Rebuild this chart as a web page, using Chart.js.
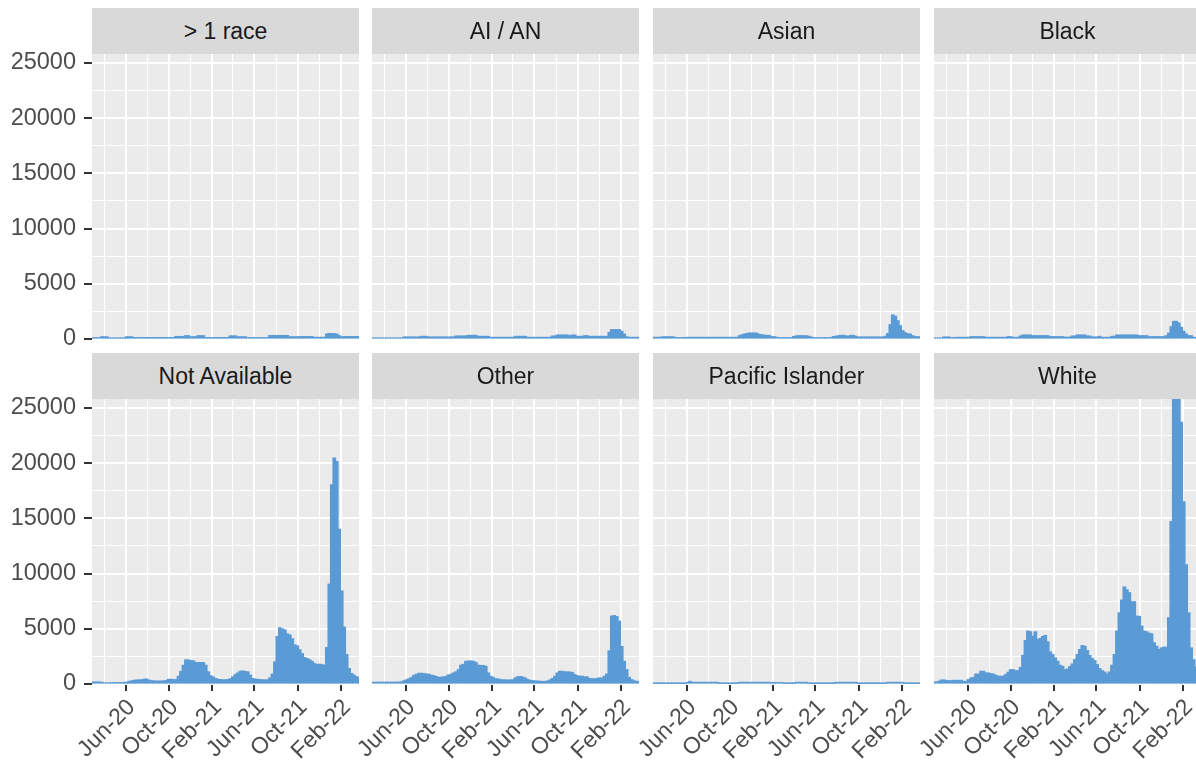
<!DOCTYPE html>
<html>
<head>
<meta charset="utf-8">
<script src="https://cdn.jsdelivr.net/npm/chart.js@4.4.0/dist/chart.umd.min.js"></script>
<style>
html,body{margin:0;padding:0;background:#ffffff;width:1196px;height:764px;overflow:hidden;}
#wrap{position:relative;width:1196px;height:764px;overflow:hidden;}
.strip{position:absolute;background:#D9D9D9;color:#1A1A1A;font-size:23px;font-family:"Liberation Sans",Arial,sans-serif;display:flex;align-items:center;justify-content:center;z-index:2;}
canvas{position:absolute;z-index:1;}
</style>
</head>
<body>
<div id="wrap"></div>
<script>
// ---------------- data ----------------
const categories = ['> 1 race','AI / AN','Asian','Black','Not Available','Other','Pacific Islander','White'];

// weekly bins: centre of first week and number of weeks
const firstWeekCentre = '2020-02-27';
const weekCount = 109;

const xAxisMin = '2020-02-27';
const xAxisMax = '2022-03-24';
const tickDates  = ['2020-06-01','2020-10-01','2021-02-01','2021-06-01','2021-10-01','2022-02-01'];
const tickLabels = ['Jun-20','Oct-20','Feb-21','Jun-21','Oct-21','Feb-22'];
const minorDates = ['2020-04-01','2020-08-01','2020-12-01','2021-04-01','2021-08-01','2021-12-01'];
const yTicks  = [0,5000,10000,15000,20000,25000];
const yMinor  = [2500,7500,12500,17500,22500];
const yMax = 25800;

const moreThanOneRace = [120,120,120,120,200,200,200,80,80,80,80,80,80,80,200,200,200,
 130,130,130,130,130,130,130,130,130,130,130,130,130,130,130,130,130,
 230,230,230,230,300,300,200,200,200,300,300,300,
 130,130,130,130,130,130,130,130,130,130,280,280,280,200,200,200,200,
 120,120,120,120,120,120,120,120,120,320,320,320,320,320,320,320,320,
 200,200,200,200,220,220,220,220,220,220,150,150,150,150,150,
 450,500,500,480,450,300,200,220,220,220,220,220,220,220];

const aian = [90,90,90,90,90,90,90,90,90,90,90,90,90,
 180,180,180,180,180,180,180,240,240,240,
 180,180,180,180,180,180,180,180,180,180,180,
 270,270,270,270,270,330,330,330,330,240,240,240,240,240,
 150,150,150,150,150,150,150,150,150,150,240,240,240,240,240,
 150,150,150,150,150,150,150,150,150,150,270,270,360,360,360,360,360,300,360,360,
 240,240,240,300,300,240,240,240,240,240,240,240,240,
 600,850,850,850,850,700,450,200,150,150,150,150,150];

const asian = [150,150,150,160,200,200,200,200,200,150,120,120,120,140,
 150,150,150,150,150,150,150,150,150,150,150,150,150,150,150,150,150,150,150,150,150,
 300,380,450,500,540,540,540,520,420,390,340,330,320,220,200,160,
 120,120,120,120,120,120,230,280,300,300,300,290,250,180,
 120,120,120,120,120,120,120,120,220,250,300,330,340,280,260,330,330,250,
 180,180,180,180,180,180,180,180,180,180,180,
 250,500,1300,2180,2060,1660,1210,760,570,480,450,300,220,200,200];

const black = [90,90,90,90,180,180,180,120,120,150,150,150,150,150,150,
 210,210,210,210,210,210,150,150,150,150,150,150,150,150,150,210,210,150,150,150,
 270,360,360,360,360,300,300,300,300,300,300,300,210,210,210,210,210,210,160,160,160,
 270,270,360,360,360,360,270,270,180,180,180,240,150,150,150,150,240,240,
 360,360,360,360,360,360,360,360,360,300,300,300,300,210,210,210,210,210,210,210,
 300,540,1120,1600,1600,1450,1060,700,450,300,300,150,150,150,150];

const notAvailable = [180,180,180,180,150,100,100,100,120,130,130,130,130,140,160,240,280,330,360,370,
 380,430,450,350,300,280,260,260,270,280,320,420,430,400,400,700,1150,1700,2180,2180,
 2120,2100,1950,1950,1950,1940,1700,1100,750,640,500,420,400,380,380,400,480,650,850,1000,
 1150,1180,1130,1100,800,500,450,420,400,380,360,380,550,900,2000,4300,5090,4980,4900,4540,
 4450,4100,3550,3450,3100,2750,2400,2300,2200,2050,1850,1750,1800,1750,1700,3300,9050,18030,20450,20150,
 14000,8420,5150,2670,1400,950,800,650,600];

const other = [150,150,160,160,160,160,160,160,160,160,170,170,200,300,380,480,600,790,880,970,
 970,930,910,880,800,760,680,600,620,640,700,820,880,1000,1100,1300,1700,1780,2050,2080,
 2080,2050,1950,1700,1680,1680,1600,1000,700,600,480,450,400,380,370,360,360,380,550,660,
 680,620,540,400,330,300,280,260,250,230,240,270,360,500,700,1000,1150,1150,1100,1100,
 1080,1050,850,760,700,700,650,640,500,480,470,500,560,520,700,900,3000,6150,6200,6100,
 5700,3400,2050,1300,600,400,280,250,230];

const pacificIslander = [50,50,50,50,50,50,50,50,50,50,50,50,50,50,150,240,
 150,150,150,150,150,150,150,150,150,150,150,50,50,50,50,50,50,50,50,
 150,150,150,150,150,150,150,150,150,150,150,150,150,130,130,130,130,130,50,50,50,50,50,
 150,150,150,150,150,50,50,50,50,50,50,50,50,50,50,50,
 150,150,150,150,150,150,150,150,150,50,50,50,50,50,50,50,50,50,50,50,50,
 150,150,150,150,150,150,150,50,50,50,50,50,50,50];

const white = [180,180,250,360,360,330,300,300,330,330,330,330,240,240,400,550,600,900,900,1150,
 1150,1000,1000,940,900,790,700,700,700,850,1060,1300,1300,1200,1200,
 1500,2600,3940,4790,4730,4330,4730,4030,4120,4300,4400,3820,2910,2670,2360,2060,1700,1600,1300,1360,
 1580,1820,2210,2670,3120,3480,3420,3030,2580,2300,2120,1760,1390,1210,1090,910,1090,1700,
 2670,4790,6450,7600,8790,8540,8270,7450,7450,6150,6120,5240,4790,4730,4600,4545,3730,3420,3120,3270,
 3330,3330,6000,14700,26500,28500,26000,23700,16500,10800,6450,3270,2200,1500,1000,800];

const seriesByCategory = [moreThanOneRace, aian, asian, black, notAvailable, other, pacificIslander, white];

// ---------------- helpers ----------------
const DAY0 = Date.UTC(2020,0,1);
function toDay(s){ const p = s.split('-').map(Number); return Math.round((Date.UTC(p[0],p[1]-1,p[2]) - DAY0)/86400000); }
const firstDay = toDay(firstWeekCentre);
const weekDays = [];
for (let i = 0; i < weekCount; i++) weekDays.push(firstDay + 7*i);

const xMajor = tickDates.map(toDay);
const xMinor = minorDates.map(toDay);
const xAllTicks = xMajor.concat(xMinor).sort((a,b)=>a-b);
const yAllTicks = yTicks.concat(yMinor).sort((a,b)=>a-b);

// ---------------- layout ----------------
const colLeft = [92, 372, 653, 934];
const panelW = 267;
const rowTop = [54, 399];
const panelH = 285;
const stripTop = [8, 353];
const stripH = 46;
const TOPPAD = 12;

const FONT = '"Liberation Sans", Arial, sans-serif';
Chart.defaults.font.family = FONT;
Chart.defaults.font.size = 23;
Chart.defaults.color = '#4D4D4D';

const panelBg = {
  id: 'panelBg',
  beforeDraw(chart){
    const a = chart.chartArea, ctx = chart.ctx;
    ctx.save();
    ctx.fillStyle = '#EBEBEB';
    ctx.fillRect(a.left, a.top, a.right - a.left, a.bottom - a.top);
    ctx.restore();
  }
};

const wrap = document.getElementById('wrap');

categories.forEach((name, k) => {
  const row = Math.floor(k / 4), col = k % 4;
  const showY = col === 0;
  const showX = row === 1;
  const yAxisW = showY ? colLeft[0] : 20;
  const canvasLeft = colLeft[col] - yAxisW;
  const canvasTop = rowTop[row] - TOPPAD;
  const canvasW = yAxisW + panelW;
  const canvasH = showX ? (764 - canvasTop) : (TOPPAD + panelH + 12);
  const xAxisH = canvasH - TOPPAD - panelH;

  const strip = document.createElement('div');
  strip.className = 'strip';
  strip.style.left = colLeft[col] + 'px';
  strip.style.top = stripTop[row] + 'px';
  strip.style.width = panelW + 'px';
  strip.style.height = stripH + 'px';
  strip.textContent = name;
  wrap.appendChild(strip);

  const cv = document.createElement('canvas');
  cv.width = canvasW; cv.height = canvasH;
  cv.style.left = canvasLeft + 'px';
  cv.style.top = canvasTop + 'px';
  cv.style.width = canvasW + 'px';
  cv.style.height = canvasH + 'px';
  wrap.appendChild(cv);

  const vals = seriesByCategory[k];
  new Chart(cv.getContext('2d'), {
    type: 'bar',
    data: {
      datasets: [{
        data: weekDays.map((d, i) => ({x: d, y: vals[i]})),
        backgroundColor: '#5B9BD5',
        borderWidth: 0,
        barPercentage: 1.12,
        categoryPercentage: 1,
        inflateAmount: 0.5,
        clip: 0
      }]
    },
    options: {
      responsive: false,
      animation: false,
      devicePixelRatio: 1,
      layout: { padding: { top: TOPPAD, left: 0, right: 0, bottom: 0 } },
      plugins: { legend: { display: false }, tooltip: { enabled: false } },
      scales: {
        x: {
          type: 'linear',
          min: toDay(xAxisMin),
          max: toDay(xAxisMax),
          offset: false,
          border: { display: false },
          grid: {
            offset: false,
            color: '#FFFFFF',
            lineWidth: c => (c.tick && xMajor.includes(c.tick.value)) ? 2 : 1,
            drawTicks: showX,
            tickLength: 7,
            tickWidth: 2,
            tickColor: c => (c.tick && xMajor.includes(c.tick.value)) ? '#333333' : 'rgba(0,0,0,0)'
          },
          ticks: {
            display: showX,
            autoSkip: false,
            minRotation: 45,
            maxRotation: 45,
            padding: 3,
            labelOffset: 6,
            color: '#4D4D4D',
            font: { size: 23, family: FONT },
            callback: v => { const i = xMajor.indexOf(v); return i >= 0 ? tickLabels[i] : ''; }
          },
          afterBuildTicks: s => { s.ticks = xAllTicks.map(v => ({value: v})); },
          afterFit: s => { s.height = xAxisH; s.paddingLeft = 0; s.paddingRight = 0; }
        },
        y: {
          min: 0,
          max: yMax,
          border: { display: false },
          grid: {
            color: '#FFFFFF',
            lineWidth: c => (c.tick && yTicks.includes(c.tick.value)) ? 2 : 1,
            drawTicks: showY,
            tickLength: 8,
            tickWidth: 2,
            tickColor: c => (c.tick && yTicks.includes(c.tick.value)) ? '#333333' : 'rgba(0,0,0,0)'
          },
          ticks: {
            display: showY,
            autoSkip: false,
            padding: 8,
            color: '#4D4D4D',
            font: { size: 23.5, family: FONT },
            callback: v => yTicks.includes(v) ? String(v) : ''
          },
          afterBuildTicks: s => { s.ticks = yAllTicks.map(v => ({value: v})); },
          afterFit: s => { s.width = yAxisW; s.paddingTop = 0; s.paddingBottom = 0; }
        }
      }
    },
    plugins: [panelBg]
  });
});
</script>
</body>
</html>
